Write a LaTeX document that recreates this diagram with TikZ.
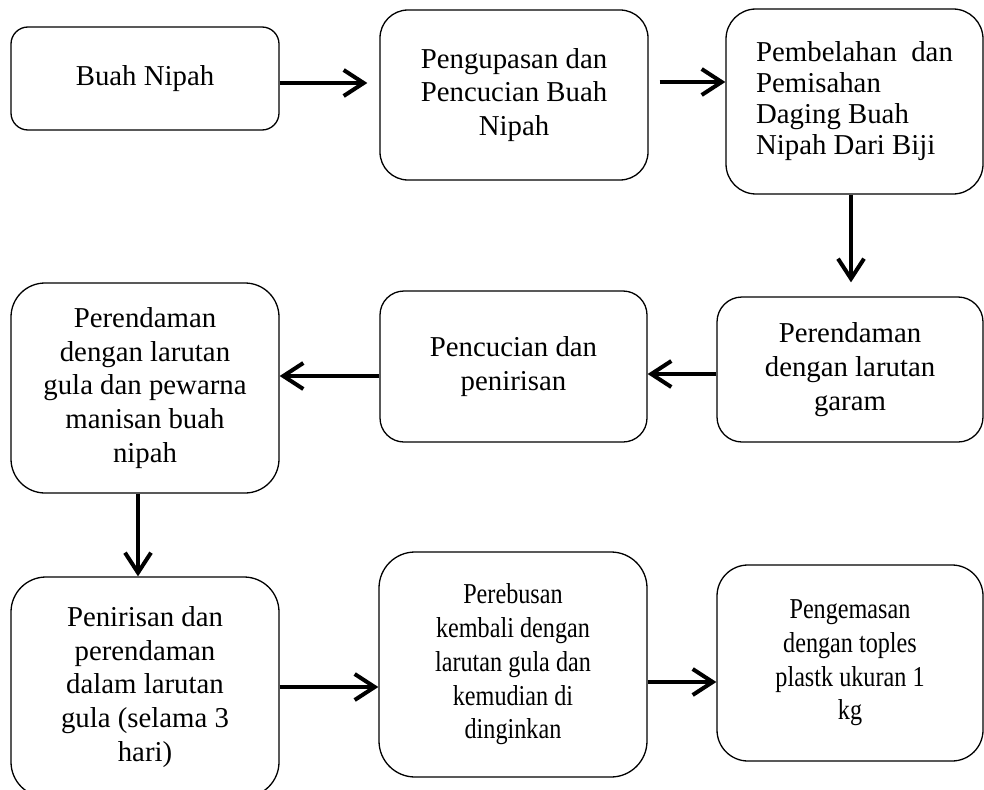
\documentclass[tikz,border=0pt]{standalone}
\usepackage{fontspec}
\setmainfont{Liberation Serif}
\newfontfamily\narrowfont[FakeStretch=0.84]{Liberation Serif}
\usetikzlibrary{arrows.meta}
\begin{document}
\begin{tikzpicture}[x=1pt,y=-1pt,
  box/.style={draw, line width=1.3pt, inner sep=0pt, align=center,
    font=\fontsize{28.8}{33.7}\selectfont},
  flow/.style={line width=4pt, -{Straight Barb[length=20pt,width=26pt]}}]
\useasboundingbox (0,0) rectangle (984,789);

\node[box, minimum width=268pt, minimum height=103pt, rounded corners=17pt] (n1) at (145,78.5) {Buah Nipah};
\node[box, minimum width=268pt, minimum height=170pt, rounded corners=28pt] (n2) at (514,95) {Pengupasan dan\\Pencucian Buah\\Nipah};
\node[box, align=left, minimum width=257pt, minimum height=185pt, rounded corners=30pt,
  font=\fontsize{28.8}{31}\selectfont] (n3) at (854.5,101.5) {Pembelahan\ \ dan\\Pemisahan\\Daging Buah\\Nipah Dari Biji};
\node[box, minimum width=266pt, minimum height=145pt, rounded corners=25pt] (n4) at (850,369.5) {Perendaman\\dengan larutan\\garam};
\node[box, minimum width=267pt, minimum height=151pt, rounded corners=24pt] (n5) at (513.5,366.5) {Pencucian dan\\penirisan};
\node[box, minimum width=268pt, minimum height=210pt, rounded corners=34pt] (n6) at (145,388) {Perendaman\\dengan larutan\\gula dan pewarna\\manisan buah\\nipah};
\node[box, minimum width=268pt, minimum height=220pt, rounded corners=35pt] (n7) at (145,687) {Penirisan dan\\perendaman\\dalam larutan\\gula (selama 3\\hari)};
\node[box, minimum width=268pt, minimum height=225pt, rounded corners=36pt,
  font=\narrowfont\fontsize{28.8}{33.7}\selectfont] (n8) at (513,664.5) {Perebusan\\kembali dengan\\larutan gula dan\\kemudian di\\dinginkan};
\node[box, minimum width=266pt, minimum height=196pt, rounded corners=31pt,
  font=\narrowfont\fontsize{28.8}{33.7}\selectfont] (n9) at (850,663) {Pengemasan\\dengan toples\\plastk ukuran 1\\kg};

\draw[flow, shorten >=12pt] ([yshift=-4.5pt]n1.east) -- ([yshift=-4.5pt]n1.east -| n2.west);
\draw[flow, shorten <=11pt] ([yshift=13pt]n2.east) -- ([yshift=13pt]n2.east -| n3.west);
\draw[flow, shorten >=14pt] ([xshift=-3.5pt]n3.south) -- ([xshift=-3.5pt]n3.south |- n4.north);
\draw[flow] ([yshift=-4.5pt]n4.west) -- ([yshift=-4.5pt]n4.west -| n5.east);
\draw[flow] ([yshift=-9.5pt]n5.west) -- ([yshift=-9.5pt]n5.west -| n6.east);
\draw[flow] ([xshift=-7pt]n6.south) -- ([xshift=-7pt]n6.south |- n7.north);
\draw[flow] (n7.east) -- (n7.east -| n8.west);
\draw[flow] ([yshift=-17.5pt]n8.east) -- ([yshift=-17.5pt]n8.east -| n9.west);
\end{tikzpicture}
\end{document}
